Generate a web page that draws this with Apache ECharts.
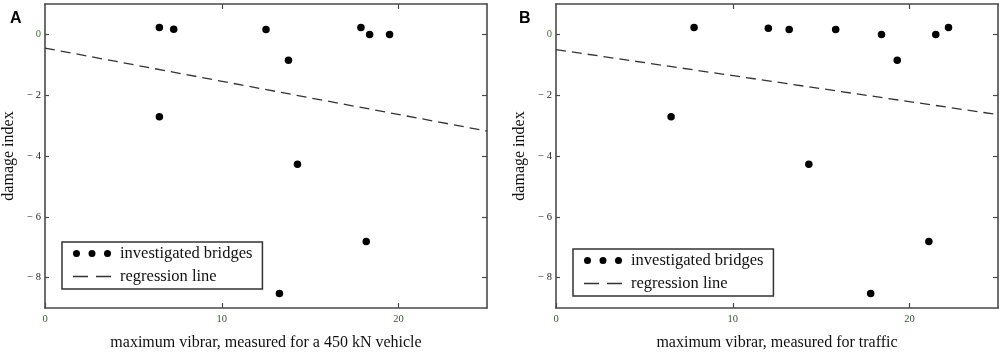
<!DOCTYPE html>
<html>
<head>
<meta charset="utf-8">
<script src="https://cdn.jsdelivr.net/npm/echarts@6/dist/echarts.min.js"></script>
<style>html,body{margin:0;padding:0;background:#fff}#c{width:1004px;height:358px}</style>
</head>
<body>
<div id="c"></div>
<script>
// ---- data ----
const xTicks = [0, 10, 20];
const yTicks = [-8, -6, -4, -2, 0];
const bridgesA_x = [6.47, 7.28, 12.5, 13.77, 14.28, 17.87, 18.36, 19.49, 6.47, 18.17, 13.26];
const bridgesA_y = [0.23, 0.17, 0.16, -0.85, -4.27, 0.23, 0.0, 0.0, -2.71, -6.81, -8.52];
const regressionA_x = [0, 25];
const regressionA_y = [-0.45, -3.18];
const bridgesB_x = [7.81, 12.01, 13.19, 15.82, 18.41, 19.3, 21.48, 22.2, 6.51, 14.3, 21.09, 17.8];
const bridgesB_y = [0.23, 0.2, 0.16, 0.16, 0.0, -0.85, 0.0, 0.23, -2.71, -4.27, -6.81, -8.52];
const regressionB_x = [0, 25];
const regressionB_y = [-0.5, -2.64];
const panelLabels = ['A', 'B'];
const xTitles = ['maximum vibrar, measured for a 450 kN vehicle', 'maximum vibrar, measured for traffic'];
const yTitle = 'damage index';
const seriesNames = ['investigated bridges', 'regression line'];

const zip = (xs, ys) => xs.map((x, i) => [x, ys[i]]);
const SERIF = '"Liberation Serif", "DejaVu Serif", serif';
const frame = { onZero: false, lineStyle: { color: '#4a4a4a', width: 1.6 } };
const tickStyle = { color: '#4a4a4a', width: 1.2 };

const grids = [
  { left: 45, right: 517, top: 4, bottom: 50 },
  { left: 556, right: 6, top: 4, bottom: 50 }
];

const xAxes = [], yAxes = [];
grids.forEach((g, gi) => {
  xAxes.push({
    type: 'value', gridIndex: gi, position: 'bottom', min: 0, max: 25,
    axisLine: { show: true, ...frame }, splitLine: { show: false },
    axisTick: { show: true, inside: true, length: 5, customValues: xTicks, lineStyle: tickStyle },
    axisLabel: { customValues: xTicks, margin: 6, fontFamily: SERIF, fontSize: 10.5, color: '#2f5a2a' },
    name: xTitles[gi], nameLocation: 'middle', nameGap: 27,
    nameTextStyle: { fontFamily: SERIF, fontSize: 16, color: '#111' }
  });
  xAxes.push({
    type: 'value', gridIndex: gi, position: 'top', min: 0, max: 25,
    axisLine: { show: true, ...frame }, splitLine: { show: false },
    axisTick: { show: true, inside: true, length: 5, customValues: [10, 20], lineStyle: tickStyle },
    axisLabel: { show: false }
  });
  yAxes.push({
    type: 'value', gridIndex: gi, position: 'left', min: -9, max: 1,
    axisLine: { show: true, ...frame }, splitLine: { show: false },
    axisTick: { show: true, inside: true, length: 4, customValues: yTicks, lineStyle: tickStyle },
    axisLabel: {
      customValues: yTicks, margin: 4, fontFamily: SERIF, fontSize: 10.5, color: '#222',
      formatter: v => v === 0 ? '{g|0}' : '\u2212 ' + Math.abs(v),
      rich: { g: { color: '#3f7a2a', fontFamily: SERIF, fontSize: 10.5 } }
    },
    name: yTitle, nameLocation: 'middle', nameGap: 28, nameRotate: 90,
    nameTextStyle: { fontFamily: SERIF, fontSize: 16, color: '#111' }
  });
  yAxes.push({
    type: 'value', gridIndex: gi, position: 'right', min: -9, max: 1,
    axisLine: { show: true, ...frame }, splitLine: { show: false },
    axisTick: { show: true, inside: true, length: 5, customValues: yTicks, lineStyle: tickStyle },
    axisLabel: { show: false }
  });
});

const dotsIcon = 'path://M0,3.5a3.5,3.5 0 1,0 7,0a3.5,3.5 0 1,0 -7,0Z M15.5,3.5a3.5,3.5 0 1,0 7,0a3.5,3.5 0 1,0 -7,0Z M31,3.5a3.5,3.5 0 1,0 7,0a3.5,3.5 0 1,0 -7,0Z';
const dashIcon = 'path://M0,0 M38,7 M0,2.85 h15 v1.3 h-15 Z M23,2.85 h15 v1.3 h-15 Z';

function mkLegend(left, top) {
  return {
    show: true, orient: 'vertical', left: left, top: top,
    backgroundColor: '#fff', borderColor: '#333', borderWidth: 1.5, borderRadius: 0,
    padding: [3, 10, 4, 11], itemGap: 6, itemWidth: 38, itemHeight: 7,
    selectedMode: false,
    textStyle: { fontFamily: SERIF, fontSize: 16.5, color: '#111', padding: [0, 0, 0, 4] },
    data: [
      { name: seriesNames[0], icon: dotsIcon, itemStyle: { color: '#000' } },
      { name: seriesNames[1], icon: dashIcon, itemStyle: { color: '#333', borderWidth: 0 } }
    ]
  };
}

const option = {
  animation: false,
  backgroundColor: '#fff',
  title: [
    { text: panelLabels[0], left: 5, top: 6, textStyle: { fontFamily: '"Liberation Sans", Arial, sans-serif', fontWeight: 'bold', fontSize: 16, color: '#000' } },
    { text: panelLabels[1], left: 514, top: 6, textStyle: { fontFamily: '"Liberation Sans", Arial, sans-serif', fontWeight: 'bold', fontSize: 16, color: '#000' } }
  ],
  grid: grids,
  xAxis: xAxes,
  yAxis: yAxes,
  legend: [mkLegend(62, 242), mkLegend(573, 249)],
  series: [
    { name: seriesNames[0], type: 'scatter', xAxisIndex: 0, yAxisIndex: 0, data: zip(bridgesA_x, bridgesA_y), symbolSize: 7.5, itemStyle: { color: '#000', opacity: 1 } },
    { name: seriesNames[1], type: 'line', xAxisIndex: 0, yAxisIndex: 0, data: zip(regressionA_x, regressionA_y), showSymbol: false, symbol: 'none', itemStyle: { color: '#333' }, lineStyle: { color: '#333', width: 1.3, type: [10, 6] } },
    { name: seriesNames[0], type: 'scatter', xAxisIndex: 2, yAxisIndex: 2, data: zip(bridgesB_x, bridgesB_y), symbolSize: 7.5, itemStyle: { color: '#000', opacity: 1 } },
    { name: seriesNames[1], type: 'line', xAxisIndex: 2, yAxisIndex: 2, data: zip(regressionB_x, regressionB_y), showSymbol: false, symbol: 'none', itemStyle: { color: '#333' }, lineStyle: { color: '#333', width: 1.3, type: [10, 6] } }
  ]
};
echarts.init(document.getElementById('c')).setOption(option);
</script>
</body>
</html>
